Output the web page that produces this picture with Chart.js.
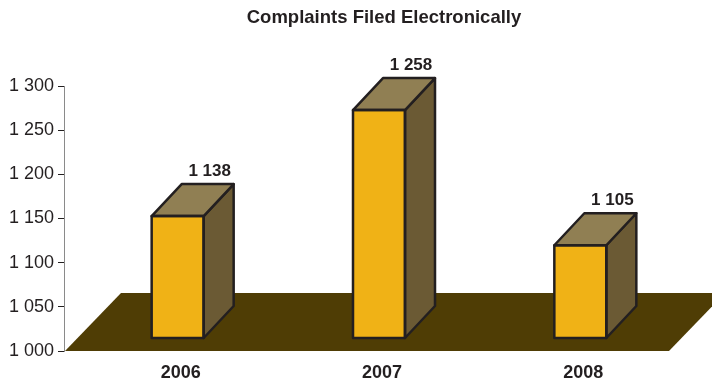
<!DOCTYPE html>
<html>
<head>
<meta charset="utf-8">
<script src="https://cdn.jsdelivr.net/npm/chart.js@4"></script>
<style>
  html, body { margin: 0; padding: 0; background: #fff; }
  #wrap { width: 712px; height: 383px; }
</style>
</head>
<body>
<div id="wrap"><canvas id="complaintsChart"></canvas></div>
<script>
const years = ["2006", "2007", "2008"];
const complaints = [1138, 1258, 1105];
const yMin = 1000, yMax = 1300, yStep = 50;
const chartTitle = "Complaints Filed Electronically";

const ink = "#231F20";
const fontFamily = "'Liberation Sans', Arial, sans-serif";

// "1 258" style thousands separator
const spaced = v => String(v).replace(/\B(?=(\d{3})+(?!\d))/g, " ");

// floor depth, box depth and the shift that centres the boxes on the floor
const floorDX = 56, floorDY = 58;
const boxDX = 30, boxDY = 32;
const shiftX = 13, shiftY = 13;

const box3d = {
  id: "box3d",
  beforeDatasetsDraw(chart) {
    const { ctx, chartArea: a } = chart;
    ctx.save();
    ctx.fillStyle = "#4F3D05";
    ctx.beginPath();
    ctx.moveTo(a.left + 1, a.bottom);
    ctx.lineTo(a.right + 1, a.bottom);
    ctx.lineTo(a.right + 1 + floorDX, a.bottom - floorDY);
    ctx.lineTo(a.left + 1 + floorDX, a.bottom - floorDY);
    ctx.closePath();
    ctx.fill();
    ctx.restore();
    ctx.save();
    ctx.translate(shiftX, -shiftY);
  },
  afterDatasetsDraw(chart) {
    const { ctx } = chart;
    const meta = chart.getDatasetMeta(0);
    const b = chart.scales.y.getPixelForValue(yMin);
    ctx.lineWidth = 2.5;
    ctx.lineJoin = "round";
    ctx.strokeStyle = ink;
    meta.data.forEach((bar, i) => {
      const l = bar.x - bar.width / 2, r = bar.x + bar.width / 2;
      const t = bar.y;
      // side
      ctx.beginPath();
      ctx.moveTo(r, b); ctx.lineTo(r, t);
      ctx.lineTo(r + boxDX, t - boxDY); ctx.lineTo(r + boxDX, b - boxDY);
      ctx.closePath();
      ctx.fillStyle = "#6B5A34";
      ctx.fill(); ctx.stroke();
      // top
      ctx.beginPath();
      ctx.moveTo(l, t); ctx.lineTo(r, t);
      ctx.lineTo(r + boxDX, t - boxDY); ctx.lineTo(l + boxDX, t - boxDY);
      ctx.closePath();
      ctx.fillStyle = "#907F53";
      ctx.fill(); ctx.stroke();
      // front outline
      ctx.strokeRect(l, t, r - l, b - t);
      // value
      ctx.fillStyle = ink;
      ctx.font = "bold 17px " + fontFamily;
      ctx.textAlign = "center";
      ctx.textBaseline = "alphabetic";
      ctx.fillText(spaced(complaints[i]), bar.x + boxDX + 2, t - boxDY - 8);
    });
    ctx.restore();
  },
  afterDraw(chart) {
    // title sits over the floor, not over the whole canvas
    const { ctx } = chart;
    ctx.save();
    ctx.fillStyle = ink;
    ctx.font = "bold 18.5px " + fontFamily;
    ctx.textAlign = "center";
    ctx.textBaseline = "middle";
    ctx.fillText(chartTitle, 384, 18);
    ctx.restore();
  }
};

new Chart(document.getElementById("complaintsChart"), {
  type: "bar",
  data: {
    labels: years,
    datasets: [{
      data: complaints,
      backgroundColor: "#F0B216",
      borderWidth: 0,
      barThickness: 52
    }]
  },
  options: {
    responsive: true,
    maintainAspectRatio: false,
    animation: false,
    layout: { padding: { left: 0, right: 44, top: 86, bottom: 0 } },
    plugins: {
      legend: { display: false },
      tooltip: { enabled: false }
    },
    scales: {
      x: {
        grid: { display: false },
        border: { display: false },
        ticks: {
          color: ink,
          font: { family: fontFamily, size: 18, weight: "bold" },
          labelOffset: 16,
          padding: 3
        },
        afterFit: s => { s.height = 32; }
      },
      y: {
        min: yMin,
        max: yMax,
        ticks: {
          stepSize: yStep,
          color: ink,
          font: { family: fontFamily, size: 18 },
          padding: 4,
          callback: v => spaced(v)
        },
        grid: { drawOnChartArea: false, drawTicks: true, tickLength: 6, tickColor: ink },
        border: { color: "#8A8A8A", width: 1 },
        afterFit: s => { s.width = 64; }
      }
    }
  },
  plugins: [box3d]
});
</script>
</body>
</html>
